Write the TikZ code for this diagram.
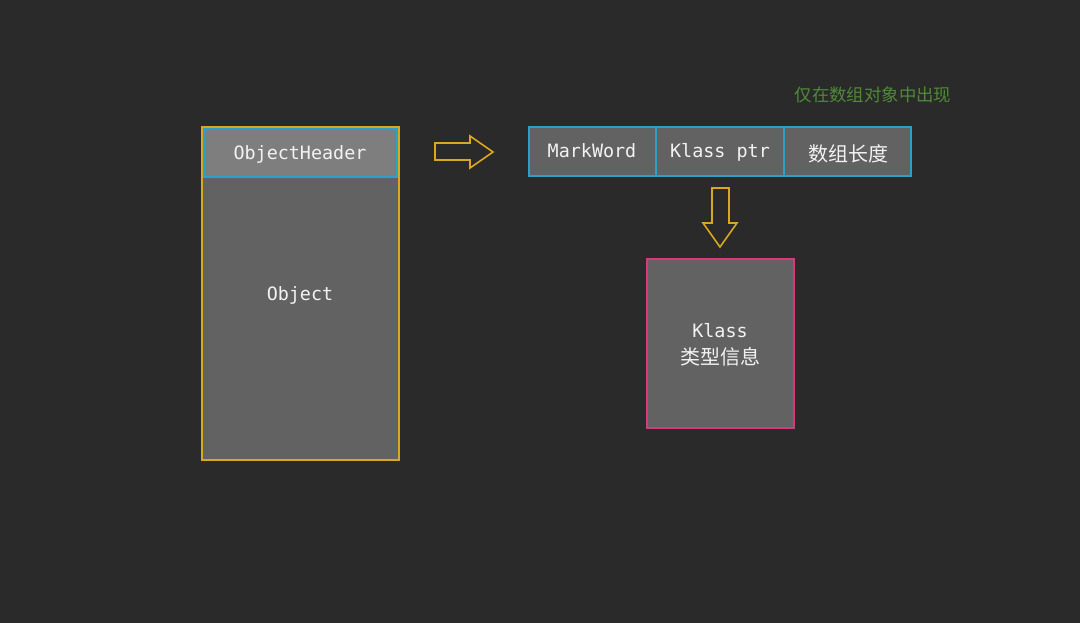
\documentclass[tikz,border=0pt]{standalone}
\usepackage{fontspec}
\setmonofont{DejaVu Sans Mono}
\newfontfamily\cjk{Noto Sans CJK SC}
\definecolor{bg}{HTML}{2A2A2A}
\definecolor{ybord}{HTML}{D9A81E}
\definecolor{cbord}{HTML}{2AA0CC}
\definecolor{mbord}{HTML}{D63A7C}
\definecolor{boxfill}{HTML}{636263}
\definecolor{hdrfill}{HTML}{7E7E7E}
\definecolor{greentxt}{HTML}{4F8A38}
\definecolor{txt}{HTML}{F2F2F2}
\tikzset{
  boxbase/.style={anchor=center, inner sep=0pt, outer sep=0pt, line width=1.6pt, text=txt},
  cell/.style={boxbase, draw=cbord, fill=boxfill, minimum height=49.4pt},
  monotxt/.style={anchor=base, inner sep=0pt, text=txt, font=\ttfamily\fontsize{18.4}{22}\selectfont},
  cjktxt/.style={inner sep=0pt, text=txt, font=\cjk\fontsize{20}{24}\selectfont},
  hollowarrow/.style={draw=ybord, line width=1.6pt, line join=miter},
}
\begin{document}
\begin{tikzpicture}[x=1pt,y=-1pt]
\fill[bg] (0,0) rectangle (1080,623);
\useasboundingbox (0,0) rectangle (1080,623);
% object
\node[boxbase, draw=ybord, fill=boxfill, minimum width=197.4pt, minimum height=333.4pt] (obj) at (300.5,293.5) {};
\node[boxbase, draw=cbord, fill=hdrfill, minimum width=193.4pt, minimum height=48.4pt] (hdr) at (300.5,153) {};
\node[monotxt] (hdrt) at (300,160) {ObjectHeader};
\node[monotxt] (objt) at (300,300) {Object};
% right arrow
\draw[hollowarrow] (435,143) -- (470,143) -- (470,136) -- (493,152) -- (470,168) -- (470,160) -- (435,160) -- cycle;
% header row
\node[cell, minimum width=127.2pt] (mw) at (592.4,151.5) {};
\node[cell, minimum width=128pt] (kp) at (720,151.5) {};
\node[cell, minimum width=127.2pt] (al) at (847.6,151.5) {};
\node[monotxt] (mwt) at (592,158) {MarkWord};
\node[monotxt] (kpt) at (720,158) {Klass ptr};
\node[cjktxt] (alt) at (848,154) {数组长度};
\node[cjktxt, text=greentxt, font=\cjk\fontsize{17.4}{20}\selectfont] (note) at (873,95) {仅在数组对象中出现};
% down arrow
\draw[hollowarrow] (712,188) -- (729,188) -- (729,223) -- (737,223) -- (720,247) -- (703,223) -- (712,223) -- cycle;
% klass box
\node[boxbase, draw=mbord, fill=boxfill, minimum width=147.4pt, minimum height=169.4pt] (kl) at (720.5,343.5) {};
\node[monotxt] (klt1) at (720,337) {Klass};
\node[cjktxt] (klt2) at (720,357) {类型信息};
\end{tikzpicture}
\end{document}
